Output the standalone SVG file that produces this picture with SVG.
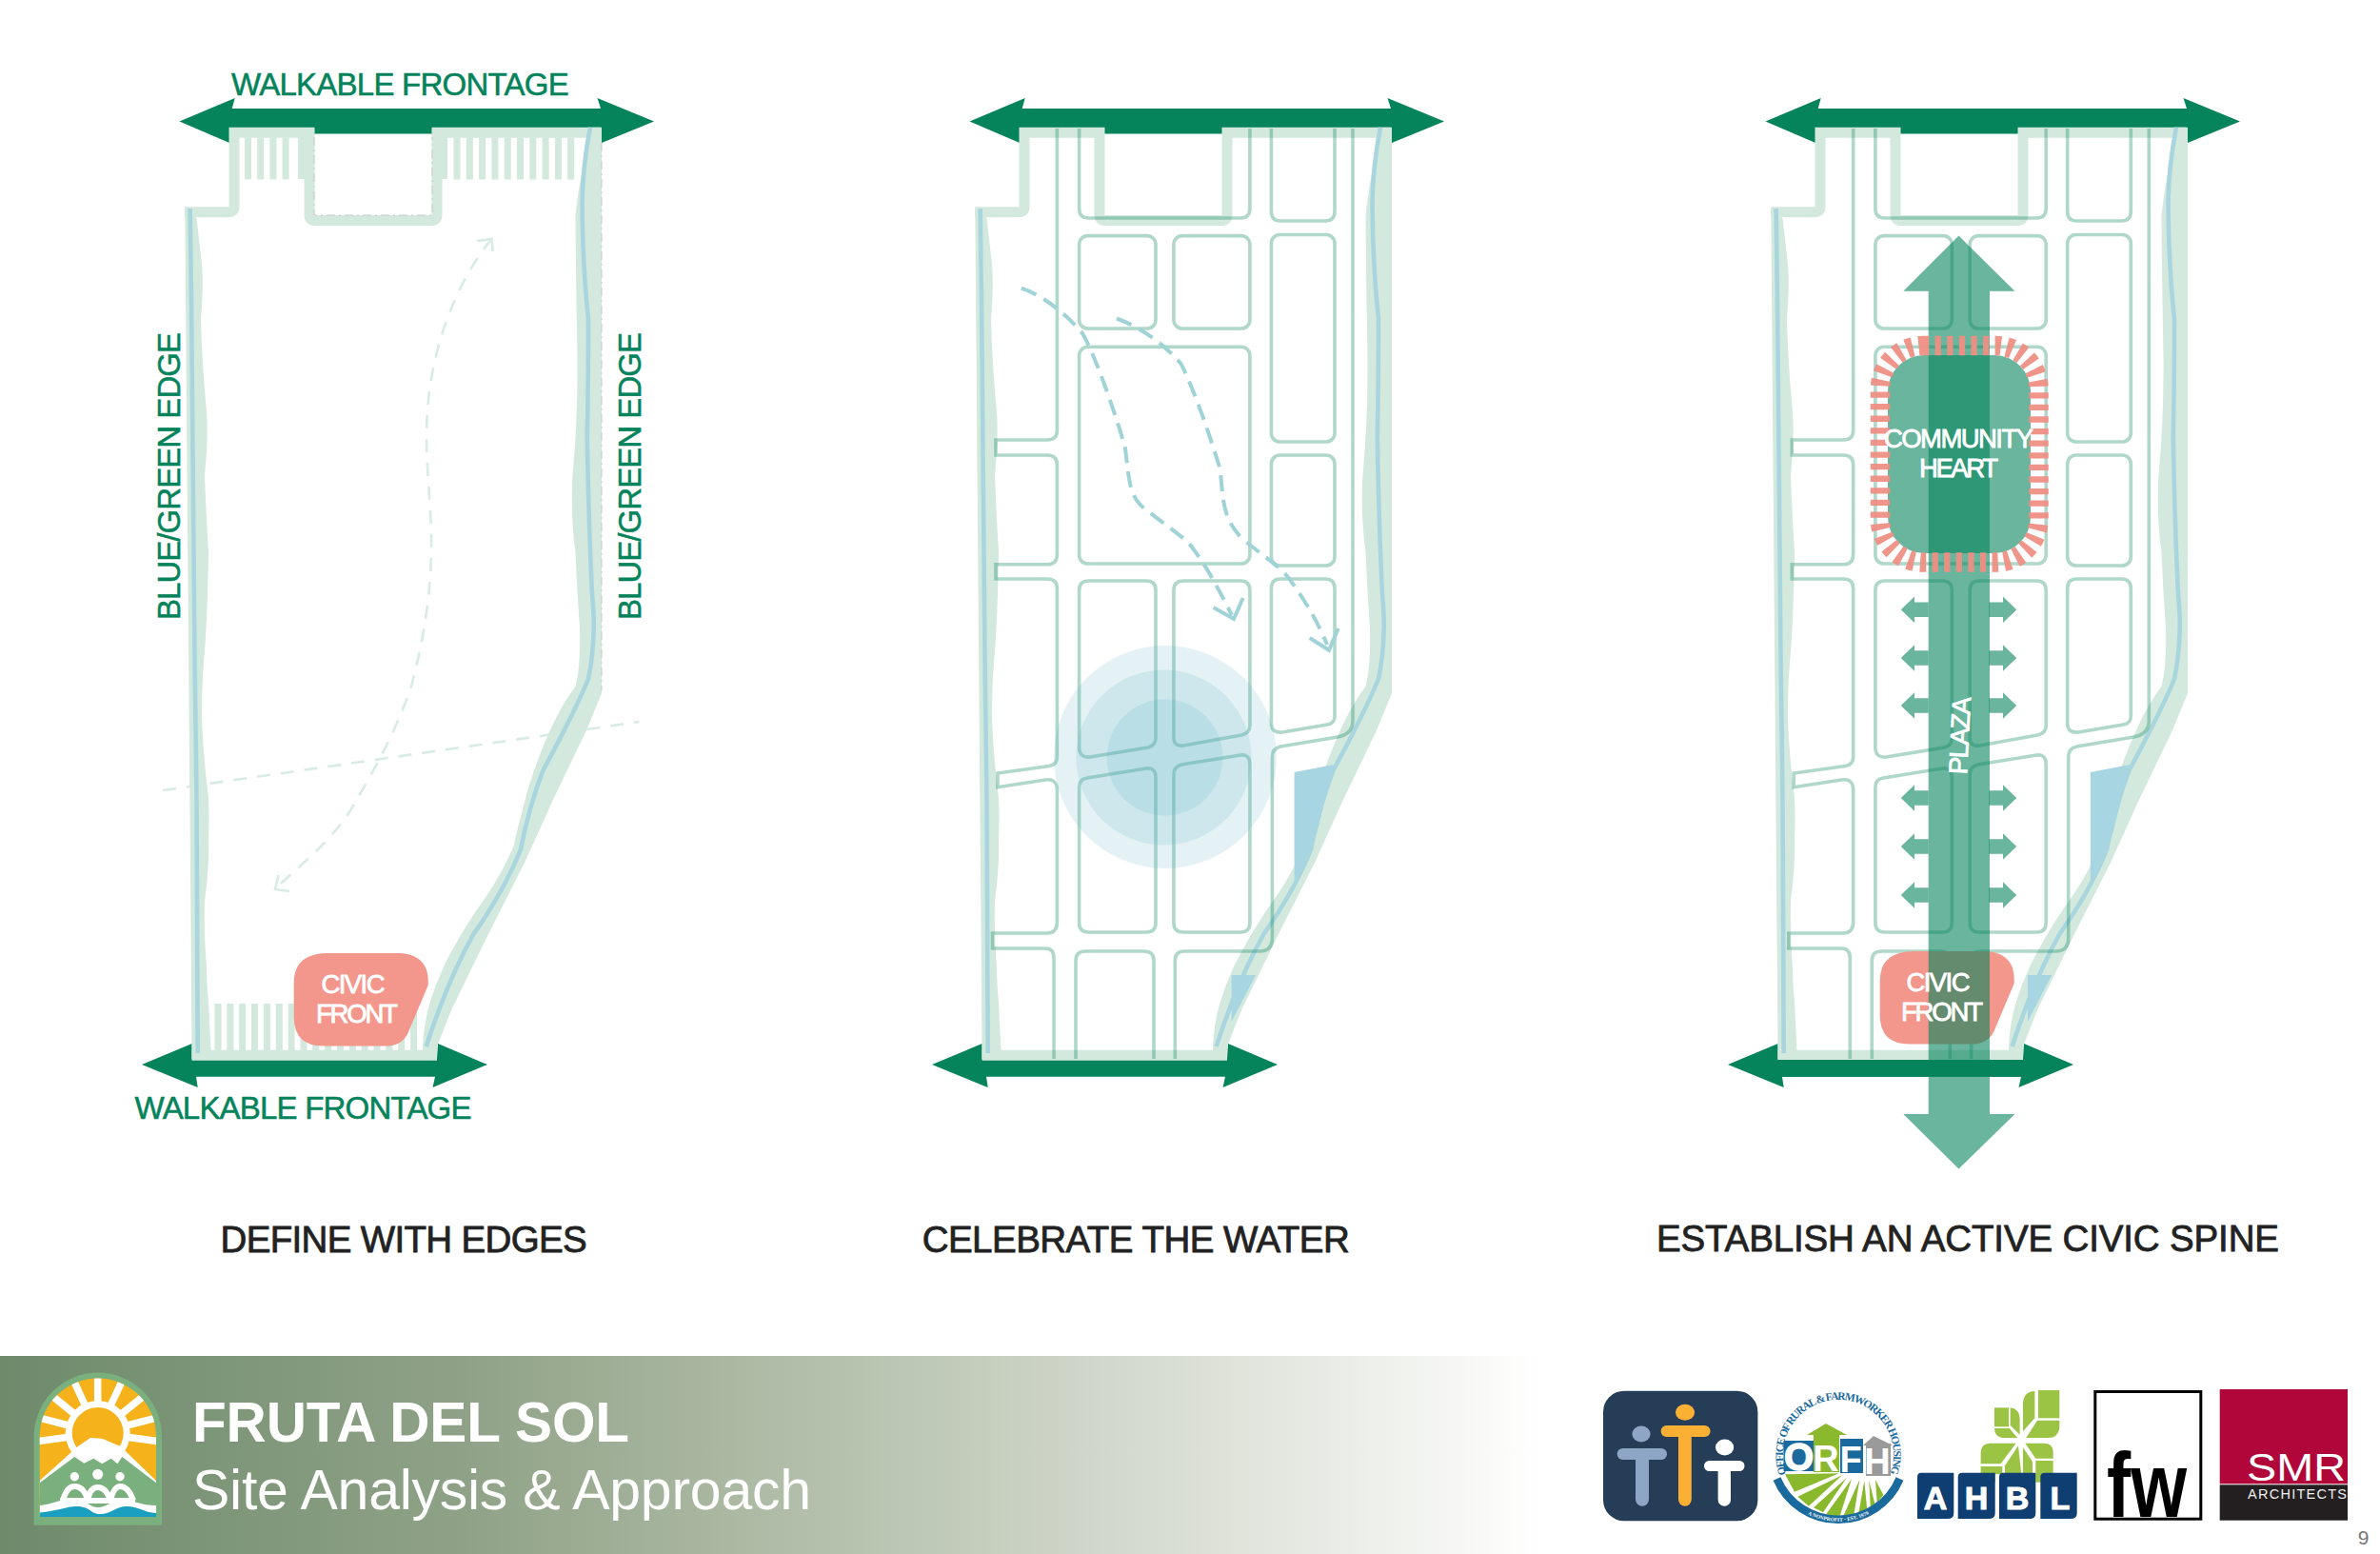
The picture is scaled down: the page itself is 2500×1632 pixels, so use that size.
<svg xmlns="http://www.w3.org/2000/svg" xmlns:xlink="http://www.w3.org/1999/xlink" width="2500" height="1632" viewBox="0 0 2500 1632">
<style>
text{font-family:"Liberation Sans",Arial,sans-serif}
.lab{font-size:33px;fill:#05835b;stroke:#05835b;stroke-width:.55}
.ttl{font-size:38.5px;fill:#222;stroke:#222;stroke-width:.8}
.wt{fill:#fff;stroke:#fff;stroke-width:.8;font-size:27.5px;text-anchor:middle}
.arrow{fill:#05835b}
.band{fill:none;stroke:#d3e9dd;stroke-width:11}
.edge{fill:#d3e9dd}
.river{fill:none;stroke:#a9d5df;stroke-width:4.6}
.water{fill:#a8d5e2}
.blk{fill:none;stroke:#05835b;stroke-opacity:.32;stroke-width:3.6}
.tooth{fill:none;stroke:#d3e9dd}
.spine{fill:#05835b;fill-opacity:.6}
.civic{fill:#f3968b}
.dash1{fill:none;stroke:#d8ebe6;stroke-width:2.6;stroke-dasharray:14 11}
.dash1s{fill:none;stroke:#d8ebe6;stroke-width:2.6}
.dash2{fill:none;stroke:#9fd3d8;stroke-width:4;stroke-dasharray:17 9}
.dash2s{fill:none;stroke:#9fd3d8;stroke-width:4}
.pool{fill:#5fb0c4;fill-opacity:.17}
.tile{fill:#0f3f72}
.tl{fill:#fff;stroke:#fff;stroke-width:1;font-size:34px;font-weight:bold;text-anchor:middle}
.leaf{fill:#9cc444}
.fld{fill:#8bb92d}
.orfh{fill:#fff;font-weight:bold;text-anchor:middle}
</style>
<defs>
<linearGradient id="fade" x1="0" y1="0" x2="1620" y2="0" gradientUnits="userSpaceOnUse">
<stop offset="0" stop-color="#6e8a6b"/><stop offset=".3" stop-color="#8fa287"/><stop offset=".55" stop-color="#b7c2ae"/><stop offset=".8" stop-color="#dfe3da"/><stop offset="1" stop-color="#fff"/>
</linearGradient>
<clipPath id="archIn"><path d="M41.7,1593 V1506 A61.2,61 0 0 1 164,1506 V1593 Z"/></clipPath>
<path id="ringTop" d="M1876.5,1547.8 A58,58 0 1 1 1985.5,1547.8"/>
<path id="ringBot" d="M1872,1567 A72,72 0 0 0 1990,1567"/>
<g id="site">
<polygon class="arrow" points="188.5,127.5 246.7,103 243.7,114 631,114 627.5,103 687,127.5 632,150 632,140.6 241,140.6 241,150"/>
<polygon class="arrow" points="149,1118 201.6,1096 201.6,1112 459,1112 460,1096 512,1118 454.5,1142 457,1130.7 206,1130.7 207.7,1142"/>
<path class="band" d="M194,222.8 H240 Q246,222.8 246,217 V139.2 H325 V226 Q325,231.5 331,231.5 H453 Q459,231.5 459,226 V139.2 H630"/>
<path class="band" d="M201.6,1108.3 H459"/>
<path class="edge" d="M194.3,217 L201.6,1113 H222 L219,1053 Q217,1030 217,1017 Q214,980 215,946 Q220,910 219,881 Q220,860 219,838 Q213,790 212,753 Q212,720 214,696 Q218,650 219,580 Q216,530 215,499 Q219,460 217,433 Q212,380 211,335 Q214,300 212,278 Q209,250 206.5,229.6 Z"/>
<path class="edge" d="M620,133.7 H632 V728 L616,767 L581.6,838.6 L551,906 L513,981 L474.4,1060 L459,1099 V1113 H444 V1101 Q445,1075 451.5,1053 Q460,1025 474.4,999 Q490,970 512.7,938.6 Q530,912 539.5,888.6 Q546,860 554.8,828 Q565,795 577.8,767 Q590,740 604.5,720.7 Q610,700 609,660 Q606,620 604.5,580.6 Q599,540 601.5,499 Q607,440 606.5,376.5 Q605,300 604.5,225.5 Q608,195 613,172 Z"/>
<path class="river" d="M199.6,219 Q201,300 201.6,376 L203.5,580 L204.6,696 L206.5,838 L207.7,1106"/>
<path class="river" d="M620,133.7 Q612,175 611.5,213 Q612,280 618,335 Q618,400 616.8,458 Q618,540 621.8,621 Q624,645 623.7,660 Q623,690 618,713 Q605,745 570,810 Q555,850 547,892 Q530,935 497.4,981 Q470,1030 447.6,1099"/>
</g>
<g id="blocks">
<polygon class="water" points="1359.6,811 1401,803 1383.6,873 1359.6,926.7"/>
<polygon class="water" points="1293.6,1024 1319,1024 1293.6,1073"/>
<path class="blk" d="M1110.4,135 V452 Q1110.4,462 1100,462 H1046 V478 H1100 Q1110.4,478 1110.4,488 V582 Q1110.4,592.8 1100,592.8 H1046 V608 H1100 Q1110.4,608 1110.4,618 V795 Q1110.4,803 1102,804.5 L1048,812 V826.7 L1098,819 Q1110.4,817 1110.4,830 V968 Q1110.4,980 1100,980 H1042.5 V996 H1098 Q1107,996 1107,1006 V1112"/>
<path class="blk" d="M1133.6,135 V219 Q1133.6,229 1143.6,229 H1303 Q1312.9,229 1312.9,219 V135"/>
<rect class="blk" x="1133.6" y="247.6" width="80.4" height="97.4" rx="9"/>
<rect class="blk" x="1232.9" y="247.6" width="80" height="97.4" rx="9"/>
<rect class="blk" x="1133.6" y="364.3" width="179.3" height="227.7" rx="9"/>
<path class="blk" d="M1143.6,610 H1204 Q1214,610 1214,620 V775 Q1214,783 1206,785 L1145,795 Q1133.6,796 1133.6,785 V620 Q1133.6,610 1143.6,610 Z"/>
<path class="blk" d="M1243,610 H1303 Q1312.9,610 1312.9,620 V762 Q1312.9,770 1304,772 L1243,783 Q1232.9,784 1232.9,775 V620 Q1232.9,610 1243,610 Z"/>
<path class="blk" d="M1133.6,827 Q1133.6,818 1142,817 L1204,807 Q1214,806 1214,816 V969 Q1214,979 1204,979 H1143.6 Q1133.6,979 1133.6,969 Z"/>
<path class="blk" d="M1232.9,814 Q1232.9,805 1241,803 L1303,793 Q1312.9,792 1312.9,802 V969 Q1312.9,979 1303,979 H1243 Q1232.9,979 1232.9,969 Z"/>
<path class="blk" d="M1130,1112 V1009 Q1130,999 1140,999 H1202 Q1212,999 1212,1009 V1112"/>
<path class="blk" d="M1234.3,1112 V1009 Q1234.3,999 1244,999 H1323 Q1336.4,999 1336.4,985 V795 Q1336.4,786 1345,784 L1405,774 Q1421,771 1421,757 V135"/>
<path class="blk" d="M1335.4,135 V222 Q1335.4,232 1345,232 H1392 Q1402,232 1402,222 V135"/>
<rect class="blk" x="1335.4" y="246.5" width="66.6" height="217.5" rx="9"/>
<rect class="blk" x="1335.4" y="478" width="66.6" height="116" rx="9"/>
<path class="blk" d="M1345,608 H1392 Q1402,608 1402,618 V752 Q1402,760 1394,761 L1347,769 Q1335.4,770 1335.4,760 V618 Q1335.4,608 1345,608 Z"/>
</g>
<path id="civicShape" class="civic" d="M345,1001 H420 Q452,1003 449.6,1035 L428.5,1085 Q422,1098.6 405,1098.6 H340 Q308.7,1098.6 308.7,1068 V1032 Q308.7,1001 345,1001 Z"/>
<polygon id="side" class="spine" points="1996.8,0 2011,-13.8 2011,-7.7 2025.7,-7.7 2025.7,7.7 2011,7.7 2011,13.8"/>
</defs>

<g id="panel-1">
<path class="dash1" d="M171,830 L671.5,758"/>
<path class="dash1" d="M516.5,251 C480,295 448,370 448,458 C448,500 454,540 453,580 C452,640 440,690 432,721 C415,770 395,805 367,853 C345,885 320,905 291,931.4"/>
<path class="dash1s" d="M501,253 L516.5,251 L517.7,264 M304,936 L289,934 L292.6,919"/>
<use xlink:href="#site" href="#site"/>
<path class="tooth" stroke-width="44" stroke-dasharray="7 6.2" d="M257,166.5 H304"/>
<rect class="edge" x="313" y="144" width="7" height="44"/>
<rect class="edge" x="464" y="144" width="6" height="44"/>
<path class="tooth" stroke-width="44" stroke-dasharray="7 6.3" d="M476.5,166.5 H605"/>
<path class="tooth" stroke-width="49" stroke-dasharray="7 5.85" d="M225.5,1078.5 H444"/>
<path fill="none" stroke="#c9c9c9" stroke-width="1" stroke-dasharray="9 4 2 4" d="M330,144 V226 H454 V144 M632,150 V725"/>
<g id="label-walkable-top"><text class="lab" x="243" y="99.8" textLength="354.7">WALKABLE FRONTAGE</text></g>
<g id="label-walkable-bottom"><text class="lab" x="141.5" y="1175" textLength="354">WALKABLE FRONTAGE</text></g>
<g id="label-edge-left"><text class="lab" transform="translate(189,651) rotate(-90)" textLength="302">BLUE/GREEN EDGE</text></g>
<g id="label-edge-right"><text class="lab" transform="translate(672.7,651) rotate(-90)" textLength="302">BLUE/GREEN EDGE</text></g>
<g id="civic-front-1"><use xlink:href="#civicShape" href="#civicShape"/>
<text class="wt" x="371" y="1043" textLength="67">CIVIC</text><text class="wt" x="375" y="1073.6" textLength="86">FRONT</text></g>
<g id="title-1"><text class="ttl" x="231.6" y="1315.3" textLength="385">DEFINE WITH EDGES</text></g>
</g>

<g id="panel-2">
<use xlink:href="#site" href="#site" transform="translate(830,0)"/>
<use xlink:href="#blocks" href="#blocks"/>
<g id="water-pool">
<circle class="pool" cx="1224" cy="795" r="117"/>
<circle class="pool" cx="1222.4" cy="795.6" r="92"/>
<circle class="pool" cx="1223.5" cy="795.5" r="61"/>
</g>
<g id="flows">
<path class="dash2" d="M1072.9,302.7 C1095,310 1118,328 1137,350 C1150,372 1172,435 1181.8,470 C1186,500 1185,520 1201.4,533.5 C1225,552 1245,565 1251.4,573.7 C1270,598 1283,625 1294,646"/>
<path class="dash2s" d="M1274.6,638 L1296,650 L1305.7,628"/>
<path class="dash2" d="M1172.9,334.5 C1195,342 1222,360 1240.7,382.3 C1255,410 1275,470 1281.8,493.3 C1285,530 1285,545 1305,566 C1325,582 1340,592 1351.4,604.3 C1370,628 1385,655 1394,677"/>
<path class="dash2s" d="M1375.7,670 L1396,682.7 L1405.7,660"/>
</g>
<g id="title-2"><text class="ttl" x="968.7" y="1315" textLength="449">CELEBRATE THE WATER</text></g>
</g>

<g id="panel-3">
<use xlink:href="#site" href="#site" transform="translate(1666,0)"/>
<use xlink:href="#blocks" href="#blocks" transform="translate(836.3,0)"/>
<g id="civic-front-3" transform="translate(1666,-2)"><use xlink:href="#civicShape" href="#civicShape"/></g>
<g id="spine">
<polygon class="spine" points="2057.5,247.6 2116.4,305.8 2090,305.8 2090,1170 2116.4,1170 2057.5,1227.4 1999.3,1170 2025.7,1170 2025.7,305.8 1999.3,305.8"/>
<use xlink:href="#side" href="#side" y="640.3"/><use xlink:href="#side" href="#side" y="691"/><use xlink:href="#side" href="#side" y="741"/><use xlink:href="#side" href="#side" y="838"/><use xlink:href="#side" href="#side" y="889"/><use xlink:href="#side" href="#side" y="940"/>
<g transform="translate(4115,0) scale(-1,1)"><use xlink:href="#side" href="#side" y="640.3"/><use xlink:href="#side" href="#side" y="691"/><use xlink:href="#side" href="#side" y="741"/><use xlink:href="#side" href="#side" y="838"/><use xlink:href="#side" href="#side" y="889"/><use xlink:href="#side" href="#side" y="940"/></g>
</g>
<polygon class="arrow" points="1867,1113 2125,1113 2125,1130.7 1872,1130.7"/>
<g id="community-heart">
<rect x="1983" y="373" width="150" height="208" rx="38" fill="#05835b" fill-opacity=".6"/>
<rect x="1975" y="363" width="166.5" height="227.5" rx="45" fill="none" stroke="#ee8f84" stroke-opacity=".95" stroke-width="20.5" stroke-dasharray="6.3 6.3"/>
<text class="wt" x="2057.5" y="470" textLength="157">COMMUNITY</text>
<text class="wt" x="2057.5" y="501" textLength="83">HEART</text>
</g>
<g id="plaza-label"><text class="wt" transform="translate(2068,773) rotate(-87)" textLength="81">PLAZA</text></g>
<g id="civic-label-3"><text class="wt" x="2036" y="1041" textLength="67">CIVIC</text><text class="wt" x="2040" y="1072" textLength="86">FRONT</text></g>
<g id="title-3"><text class="ttl" x="1740" y="1314" textLength="654">ESTABLISH AN ACTIVE CIVIC SPINE</text></g>
</g>

<g id="footer">
<rect x="0" y="1424" width="1620" height="208" fill="url(#fade)"/>
<g id="sun-logo">
<path d="M35.7,1601.7 V1506 A67.2,67 0 0 1 170,1506 V1601.7 Z" fill="#7ab07d"/>
<g clip-path="url(#archIn)">
<rect x="40" y="1440" width="126" height="155" fill="#f6b21b"/>
<g stroke="#fff" stroke-width="7.5" fill="none">
<path d="M102.7,1505 V1440 M102.7,1505 L72,1438 M102.7,1505 L50,1462 M102.7,1505 L30,1486 M102.7,1505 L30,1515 M102.7,1505 L134,1438 M102.7,1505 L156,1462 M102.7,1505 L176,1486 M102.7,1505 L176,1515"/>
</g>
<circle cx="102.7" cy="1505" r="34" fill="#fff"/>
<circle cx="102.7" cy="1505" r="27" fill="#f6b21b"/>
<polygon fill="#fff" points="41.7,1555 81.7,1519 95,1510 107,1510.7 126.7,1519 164,1555 164,1570 41.7,1570"/>
<polygon fill="#7ab07d" points="41.7,1557.3 78.3,1530 88.3,1536.7 98.3,1531.7 107.3,1537.3 116.7,1531.7 123.3,1537.3 128.3,1530 164,1557.3 164,1593 41.7,1593"/>
<g fill="#fff"><circle cx="78.3" cy="1550.7" r="4.7"/><circle cx="102.7" cy="1548.3" r="5.5"/><circle cx="126" cy="1550.7" r="4.7"/></g>
<path fill="none" stroke="#fff" stroke-width="6" d="M66,1576 Q70,1561 78.3,1561 Q88,1561 92,1575 M92,1577 Q94,1562 102.7,1562 Q112,1562 116,1577 M116,1575 Q120,1561 126,1561 Q135,1561 140,1576 M63,1576 H142"/>
<path fill="#fff" d="M41.7,1581 C60,1579 65,1573 80,1575 C95,1578 95,1583 103,1583 C112,1583 118,1574 135,1576 C148,1578 150,1581 164,1581 V1593 H41.7Z"/>
<path fill="#1a9fc0" d="M41.7,1588.5 C60,1587 70,1582 80,1582 C95,1582 95,1590 105,1590 C118,1590 122,1581 135,1582 C148,1583 150,1588 164,1589 V1593 H41.7Z"/>
</g>
</g>
<text x="202" y="1514" font-size="58.5" font-weight="bold" fill="#fff" textLength="459">FRUTA DEL SOL</text>
<text x="202" y="1585" font-size="59" fill="#fff" textLength="650">Site Analysis &amp; Approach</text>
</g>

<g id="logo-people">
<rect x="1684" y="1460.7" width="162.4" height="136.6" rx="22" fill="#263d57"/>
<g fill="#8ea6c5"><ellipse cx="1724" cy="1506" rx="9.6" ry="8.5"/><rect x="1698.6" y="1521" width="52.4" height="12" rx="6"/><rect x="1718" y="1521" width="14" height="60.7" rx="7"/></g>
<g fill="#fbb034"><ellipse cx="1770" cy="1483.3" rx="10" ry="8.5"/><rect x="1744.6" y="1497" width="52" height="12" rx="6"/><rect x="1763" y="1497" width="13.8" height="84.7" rx="6.9"/></g>
<g fill="#fff"><ellipse cx="1811.6" cy="1520" rx="9.6" ry="8.5"/><rect x="1790" y="1534" width="42.5" height="11" rx="5.5"/><rect x="1804.6" y="1534" width="13.4" height="47.7" rx="6.7"/></g>
</g>

<g id="logo-orfh">
<g class="fld">
<polygon points="1875,1548.3 1931.7,1547.3 1885,1566.7"/>
<polygon points="1888.3,1571.7 1935,1549.3 1900,1581.7"/>
<polygon points="1905,1583.3 1940,1551.7 1915,1588.3"/>
<polygon points="1918.3,1590 1945,1553.3 1931.7,1595"/>
<polygon points="1935,1595 1953.3,1554 1946.7,1595"/>
<polygon points="1951.7,1593.3 1958.3,1555 1961.7,1590"/>
<polygon points="1965,1588.3 1963.3,1555 1970,1581.7"/>
<polygon points="1971.7,1578.3 1970,1554 1978.3,1570"/>
</g>
<path d="M1866.5,1553 A70,70 0 0 0 1995.5,1553" fill="none" stroke="#1a6a9d" stroke-width="8.5"/>
<polygon fill="#8bb92d" points="1898,1507 1918,1495 1940,1507"/>
<polygon fill="#9a9a9a" points="1957,1518 1968,1508 1988,1518"/>
<rect x="1873.5" y="1513" width="32" height="32" fill="#1a6a9d"/>
<rect x="1905" y="1507" width="27" height="39" fill="#8bb92d"/>
<rect x="1933" y="1511" width="24" height="36" fill="#1a6a9d"/>
<rect x="1960" y="1516" width="26" height="34" fill="#9a9a9a"/>
<text class="orfh" x="1889.5" y="1544" font-size="40" stroke="#fff" stroke-width="1.5">O</text>
<text class="orfh" x="1918" y="1545" font-size="38">R</text>
<text class="orfh" x="1944" y="1546" font-size="38">F</text>
<text class="orfh" x="1972" y="1548" font-size="38">H</text>
<text font-size="11.6" font-weight="bold" fill="#1a6a9d" style="font-family:'Liberation Serif',serif"><textPath xlink:href="#ringTop" href="#ringTop" textLength="222">OFFICE OF RURAL &amp; FARMWORKER HOUSING</textPath></text>
<text font-size="5.5" font-weight="bold" fill="#fff" text-anchor="middle" style="font-family:'Liberation Serif',serif"><textPath xlink:href="#ringBot" href="#ringBot" startOffset="50%">A NONPROFIT · EST. 1979</textPath></text>
</g>

<g id="logo-ahbl">
<g class="leaf" transform="translate(1850,1450) scale(.3333)">
<path d="M873,30 H940 V118 H873 Z"/>
<path d="M862,32 Q825,35 825,75 V160 L862,118 Z"/>
<path d="M870,125 H940 V150 Q935,180 905,180 H835 Z"/>
<rect x="735" y="85" width="45" height="60"/>
<path d="M785,85 Q815,90 815,120 V170 L785,140 Z"/>
<path d="M735,150 H782 L808,180 H760 Q735,175 735,150 Z"/>
<path d="M692,262 V230 Q692,197 720,197 H803 L755,262 Z"/>
<path d="M810,205 L820,295 H768 V268 Z"/>
<path d="M832,197 H890 Q920,197 920,225 V245 H865 Z"/>
<path d="M825,210 L855,255 V295 H825 Z"/>
<path d="M865,252 H920 V300 H865 Z"/>
<path d="M692,270 H760 V295 H738 V320 Q700,320 692,290 Z"/>
<path d="M865,300 V320 H890 L900,300 Z"/>
</g>
<path class="tile" d="M2014,1551 Q2014,1546.7 2018,1546.7 H2052.3 V1589 Q2052.3,1595 2046,1595 H2014 Z"/>
<path class="tile" d="M2056.7,1551 Q2056.7,1546.7 2061,1546.7 H2095.7 V1589 Q2095.7,1595 2089,1595 H2056.7 Z"/>
<path class="tile" d="M2100,1551 Q2100,1546.7 2104,1546.7 H2138.3 V1589 Q2138.3,1595 2132,1595 H2100 Z"/>
<path class="tile" d="M2143.3,1551 Q2143.3,1546.7 2148,1546.7 H2181.7 V1589 Q2181.7,1595 2175,1595 H2143.3 Z"/>
<text class="tl" x="2033" y="1585">A</text><text class="tl" x="2076" y="1585">H</text><text class="tl" x="2119" y="1585">B</text><text class="tl" x="2164" y="1585">L</text>
</g>

<g id="logo-fw">
<rect x="2200.8" y="1461.5" width="111" height="133.7" fill="#fff" stroke="#000" stroke-width="3"/>
<text x="2213" y="1593" font-size="96" font-weight="bold" fill="#000" textLength="84" lengthAdjust="spacingAndGlyphs">fw</text>
</g>

<g id="logo-smr">
<rect x="2331.7" y="1459" width="134.3" height="99.3" fill="#b0063a"/>
<rect x="2331.7" y="1559.3" width="134.3" height="37.4" fill="#231f20"/>
<text x="2360" y="1555" font-size="41" fill="#fff" textLength="104" lengthAdjust="spacingAndGlyphs">SMR</text>
<text x="2361" y="1574" font-size="14.5" fill="#eee" textLength="104">ARCHITECTS</text>
</g>

<g id="page-number"><text x="2476.7" y="1621.7" font-size="21" fill="#777">9</text></g>
</svg>
